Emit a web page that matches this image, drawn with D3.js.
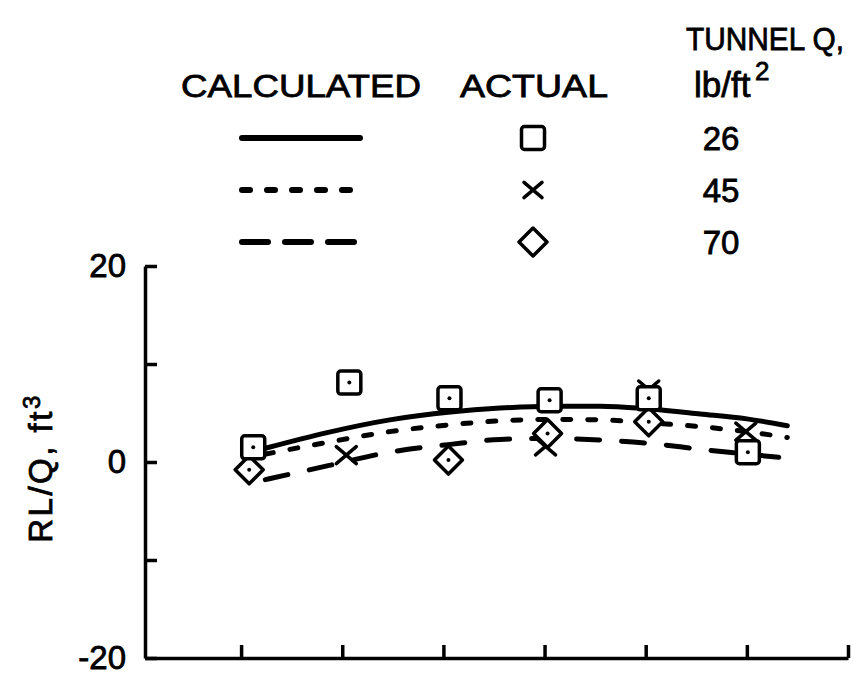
<!DOCTYPE html>
<html>
<head>
<meta charset="utf-8">
<script src="https://cdn.jsdelivr.net/npm/d3@7"></script>
<style>
  body { margin: 0; background: #fff; }
  text { font-family: "Liberation Sans", Arial, sans-serif; fill: #000; stroke: #000; stroke-width: 0.8px; }
</style>
</head>
<body>
<svg id="chart" width="854" height="680"></svg>
<script>
// x stations (unlabelled on the original) and y ticks
var stations = [1, 2, 3, 4, 5, 6, 7];
var yTicks = [-20, -10, 0, 10, 20];
var yLabels = [-20, 0, 20];
var tunnelQ = ["26", "45", "70"];

// actual (measured) points
var squareX = [1.12, 2.07, 3.06, 4.05, 5.03, 6.01];
var squareY = [1.5, 8.1, 6.5, 6.3, 6.5, 1.0];
var crossX = [2.04, 4.01, 5.03, 5.99];
var crossY = [0.7, 1.6, 7.4, 3.1];
var diamondX = [1.08, 3.05, 4.03, 5.03];
var diamondY = [-0.8, 0.2, 2.9, 4.1];

// calculated curves
var curveX = [1.24, 1.85, 2.47, 3.07, 3.56, 4.05, 4.55, 5.04, 5.54, 6.0, 6.4];
var calc26 = [1.4, 3.0, 4.3, 5.1, 5.5, 5.7, 5.7, 5.4, 4.9, 4.4, 3.7];
var calc45 = [0.8, 2.0, 3.1, 3.8, 4.2, 4.35, 4.3, 4.0, 3.6, 3.1, 2.5];
var calc70 = [-1.8, -0.4, 1.0, 1.8, 2.3, 2.4, 2.25, 1.9, 1.3, 0.8, 0.4];

function init() {
    var svg = d3.select("#chart");

    var x = d3.scaleLinear().domain([0.05, 7]).range([145, 848]);
    var y = d3.scaleLinear().domain([-20, 20]).range([658, 266]);

    var styles = [
        { vals: calc26, dash: null },
        { vals: calc45, dash: "8,17" },
        { vals: calc70, dash: "23,22" }
    ];

    // axes
    var xAxis = svg.append("g")
        .attr("transform", "translate(0,658)")
        .call(d3.axisBottom(x).tickValues(stations).tickSizeInner(-13).tickSizeOuter(0).tickFormat(""));
    var yAxis = svg.append("g")
        .attr("transform", "translate(145,0)")
        .call(d3.axisLeft(y).tickValues(yTicks).tickSizeInner(-12).tickSizeOuter(0).tickPadding(19)
            .tickFormat(function(d) { return yLabels.indexOf(d) >= 0 ? String(d) : ""; }));
    [xAxis, yAxis].forEach(function(a) {
        a.select(".domain").attr("stroke", "#000").attr("stroke-width", 3.5);
        a.selectAll(".tick line").attr("stroke", "#000").attr("stroke-width", 3.5);
    });
    yAxis.selectAll(".tick text")
        .style("font-size", "33px")
        .attr("font-family", null);

    // y title
    svg.append("text")
        .attr("transform", "translate(52,468) rotate(-90)")
        .attr("text-anchor", "middle")
        .style("font-size", "33px")
        .style("letter-spacing", "2.5px")
        .html("RL/Q, ft<tspan dy='-12' style='font-size:24px'>3</tspan>");

    // curves
    var line = d3.line()
        .x(function(d, i) { return x(curveX[i]); })
        .y(function(d) { return y(d); })
        .curve(d3.curveMonotoneX);
    styles.forEach(function(s) {
        svg.append("path")
            .attr("d", line(s.vals))
            .attr("fill", "none")
            .attr("stroke", "#000")
            .attr("stroke-width", 5)
            .attr("stroke-linecap", "round")
            .attr("stroke-dasharray", s.dash);
    });

    // markers
    function cross(g, h) {
        g.append("path")
            .attr("d", "M" + (-h) + "," + (-h * 0.85) + "L" + h + "," + (h * 0.85) +
                       "M" + (-h) + "," + (h * 0.85) + "L" + h + "," + (-h * 0.85))
            .attr("stroke", "#000").attr("stroke-width", 3.5).attr("stroke-linecap", "round");
    }
    function square(g, s, dot) {
        g.append("rect")
            .attr("x", -s / 2).attr("y", -s / 2).attr("width", s).attr("height", s).attr("rx", 3)
            .attr("fill", "#fff").attr("stroke", "#000").attr("stroke-width", 3.5);
        if (dot) g.append("circle").attr("r", 2).attr("fill", "#000");
    }
    function diamond(g, h, dot) {
        g.append("path")
            .attr("d", "M0," + (-h) + "L" + h + ",0L0," + h + "L" + (-h) + ",0Z")
            .attr("fill", "#fff").attr("stroke", "#000").attr("stroke-width", 3.5)
            .attr("stroke-linejoin", "round");
        if (dot) g.append("circle").attr("r", 2).attr("fill", "#000");
    }

    crossX.forEach(function(v, i) {
        cross(svg.append("g").attr("transform", "translate(" + x(v) + "," + y(crossY[i]) + ")"), 10);
    });
    diamondX.forEach(function(v, i) {
        diamond(svg.append("g").attr("transform", "translate(" + x(v) + "," + y(diamondY[i]) + ")"), 14, true);
    });
    squareX.forEach(function(v, i) {
        square(svg.append("g").attr("transform", "translate(" + x(v) + "," + y(squareY[i]) + ")"), 23, true);
    });

    // legend
    svg.append("text").attr("x", 686).attr("y", 50).attr("textLength", 158).attr("lengthAdjust", "spacingAndGlyphs")
        .style("font-size", "32px").text("TUNNEL Q,");
    svg.append("text").attr("x", 181).attr("y", 97).attr("textLength", 240).attr("lengthAdjust", "spacingAndGlyphs")
        .style("font-size", "32px").text("CALCULATED");
    svg.append("text").attr("x", 460).attr("y", 97).attr("textLength", 148).attr("lengthAdjust", "spacingAndGlyphs")
        .style("font-size", "32px").text("ACTUAL");
    svg.append("text").attr("x", 694).attr("y", 97)
        .style("font-size", "35px").text("lb/ft");
    svg.append("text").attr("x", 755).attr("y", 80)
        .style("font-size", "26px").text("2");

    var rowY = [138, 190, 242];
    var legendDash = [null, "8,17", "26,17"];
    rowY.forEach(function(ry, i) {
        svg.append("line")
            .attr("x1", 242).attr("x2", 360).attr("y1", ry).attr("y2", ry)
            .attr("stroke", "#000").attr("stroke-width", 6)
            .attr("stroke-linecap", "round")
            .attr("stroke-dasharray", legendDash[i]);
        var g = svg.append("g").attr("transform", "translate(533," + ry + ")");
        if (i === 0) square(g, 23, false);
        else if (i === 1) cross(g, 9);
        else diamond(g, 14, false);
        svg.append("text").attr("x", 721).attr("y", ry + 12).attr("text-anchor", "middle")
            .style("font-size", "33px").text(tunnelQ[i]);
    });
}

window.onload = init;
</script>
</body>
</html>
